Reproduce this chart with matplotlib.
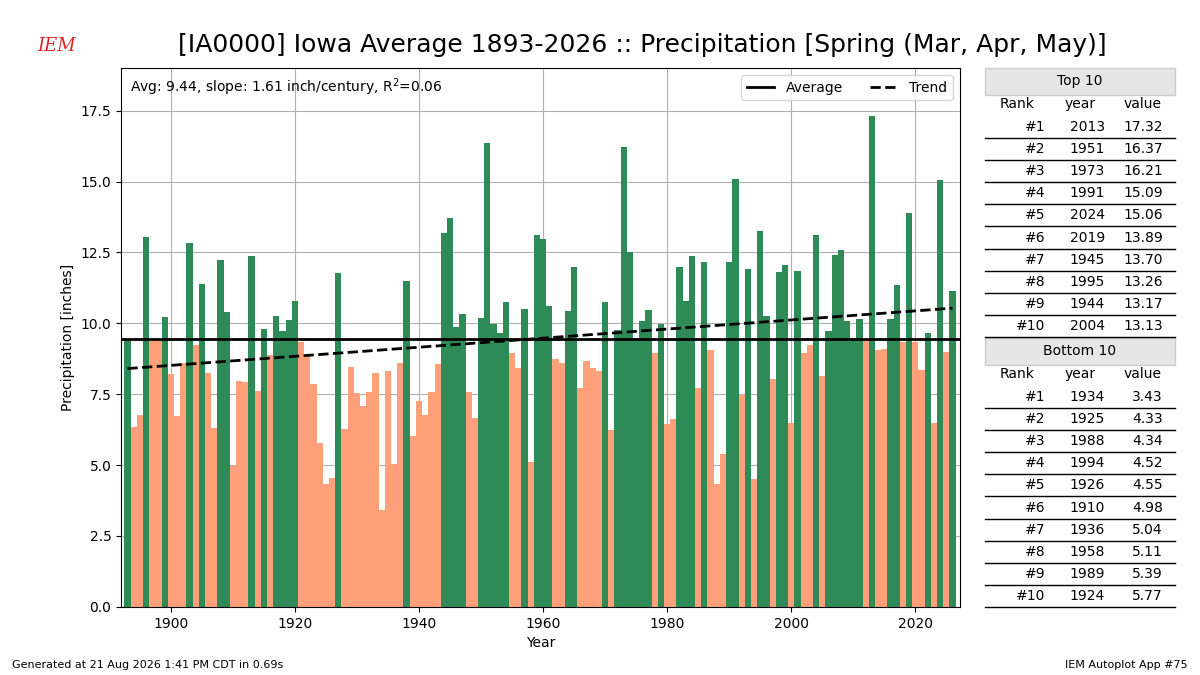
import matplotlib
matplotlib.use("Agg")
from matplotlib import pyplot as plt
import numpy as np

years = list(range(1893, 2027))
precip = [
    9.45, 6.34, 6.76, 13.06, 9.38, 9.42, 10.21, 8.20, 6.73, 8.59,
    12.85, 9.23, 11.37, 8.24, 6.30, 12.25, 10.39, 4.98, 7.96, 7.92,
    12.36, 7.60, 9.79, 8.87, 10.25, 9.72, 10.10, 10.77, 9.33, 8.85,
    7.85, 5.77, 4.33, 4.55, 11.76, 6.27, 8.45, 7.53, 7.08, 7.57,
    8.24, 3.43, 8.31, 5.04, 8.59, 11.51, 6.02, 7.25, 6.76, 7.57,
    8.55, 13.17, 13.70, 9.86, 10.32, 7.57, 6.65, 10.18, 16.37, 9.96,
    9.65, 10.74, 8.94, 8.41, 10.49, 5.11, 13.10, 12.99, 10.60, 8.73,
    8.59, 10.42, 12.00, 7.71, 8.66, 8.41, 8.31, 10.74, 6.23, 9.75,
    16.21, 12.50, 9.50, 10.07, 10.46, 8.94, 9.99, 6.44, 6.62, 12.00,
    10.80, 12.36, 7.71, 12.15, 9.05, 4.34, 5.39, 12.18, 15.09, 7.46,
    11.90, 4.52, 13.26, 10.25, 8.03, 11.80, 12.04, 6.48, 11.83, 8.97,
    9.23, 13.13, 8.15, 9.72, 12.40, 12.60, 10.07, 9.50, 10.14, 9.40,
    17.32, 9.05, 9.08, 10.14, 11.34, 9.33, 13.89, 9.33, 8.35, 9.65,
    6.50, 15.06, 9.00, 11.13,
]
avg = 9.44

top_ranks = ["#1", "#2", "#3", "#4", "#5", "#6", "#7", "#8", "#9", "#10"]
top_years = [2013, 1951, 1973, 1991, 2024, 2019, 1945, 1995, 1944, 2004]
top_vals = [17.32, 16.37, 16.21, 15.09, 15.06, 13.89, 13.70, 13.26, 13.17, 13.13]
bot_years = [1934, 1925, 1988, 1994, 1926, 1910, 1936, 1958, 1989, 1924]
bot_vals = [3.43, 4.33, 4.34, 4.52, 4.55, 4.98, 5.04, 5.11, 5.39, 5.77]

yrs = np.array(years)
vals = np.array(precip)
colors = ["seagreen" if v >= avg else "lightsalmon" for v in vals]

fig = plt.figure(figsize=(12, 6.75), dpi=100)
ax = fig.add_axes([0.101, 0.101, 0.699, 0.798])
ax.bar(yrs, vals, width=1.0, color=colors, zorder=2)
ax.axhline(avg, color="k", lw=2, label="Average", zorder=3)
coef = np.polyfit(yrs, vals, 1)
ax.plot(yrs, np.polyval(coef, yrs), "k--", lw=2, label="Trend", zorder=3)
ax.set_xlim(1892, 2027.2)
ax.set_ylim(0, 19)
ax.set_yticks(np.arange(0, 17.6, 2.5))
ax.grid(True, color="#b0b0b0", zorder=0)
ax.set_axisbelow(True)
ax.set_xlabel("Year")
ax.set_ylabel("Precipitation [inches]")
ax.legend(loc="upper right", ncol=2)
ax.text(0.01, 0.985, "Avg: 9.44, slope: 1.61 inch/century, R$^2$=0.06",
        transform=ax.transAxes, va="top", fontsize=10)

fig.text(0.535, 0.933, "[IA0000] Iowa Average 1893-2026 :: Precipitation [Spring (Mar, Apr, May)]",
         ha="center", va="center", fontsize=18)
fig.text(0.01, 0.01, "Generated at 21 Aug 2026 1:41 PM CDT in 0.69s", fontsize=8)
fig.text(0.99, 0.01, "IEM Autoplot App #75", fontsize=8, ha="right")
fig.text(0.031, 0.925, "IEM", color="#d62728", fontsize=13, style="italic", family="serif")

# ranking tables
tx = fig.add_axes([0.0, 0.0, 1.0, 1.0], facecolor="none")
tx.set_xlim(0, 1200)
tx.set_ylim(675, 0)
tx.axis("off")


def draw_table(y0, title, yrs_list, vals_list):
    tx.add_patch(plt.Rectangle((985, y0), 190, 27, facecolor="#e6e6e6",
                               edgecolor="#cccccc"))
    tx.text(1080, y0 + 13, title, ha="center", va="center", fontsize=10)
    tx.text(1017, y0 + 36, "Rank", ha="center", va="center", fontsize=10)
    tx.text(1080, y0 + 36, "year", ha="center", va="center", fontsize=10)
    tx.text(1143, y0 + 36, "value", ha="center", va="center", fontsize=10)
    for i in range(10):
        yc = y0 + 59 + i * 22.1
        tx.text(1045, yc, top_ranks[i], ha="right", va="center", fontsize=10)
        tx.text(1105, yc, str(yrs_list[i]), ha="right", va="center", fontsize=10)
        tx.text(1163, yc, f"{vals_list[i]:.2f}", ha="right", va="center", fontsize=10)
        tx.plot([985, 1175], [yc + 11, yc + 11], color="k", lw=1)


draw_table(68, "Top 10", top_years, top_vals)
draw_table(338, "Bottom 10", bot_years, bot_vals)

fig.savefig("out.png", dpi=100)
